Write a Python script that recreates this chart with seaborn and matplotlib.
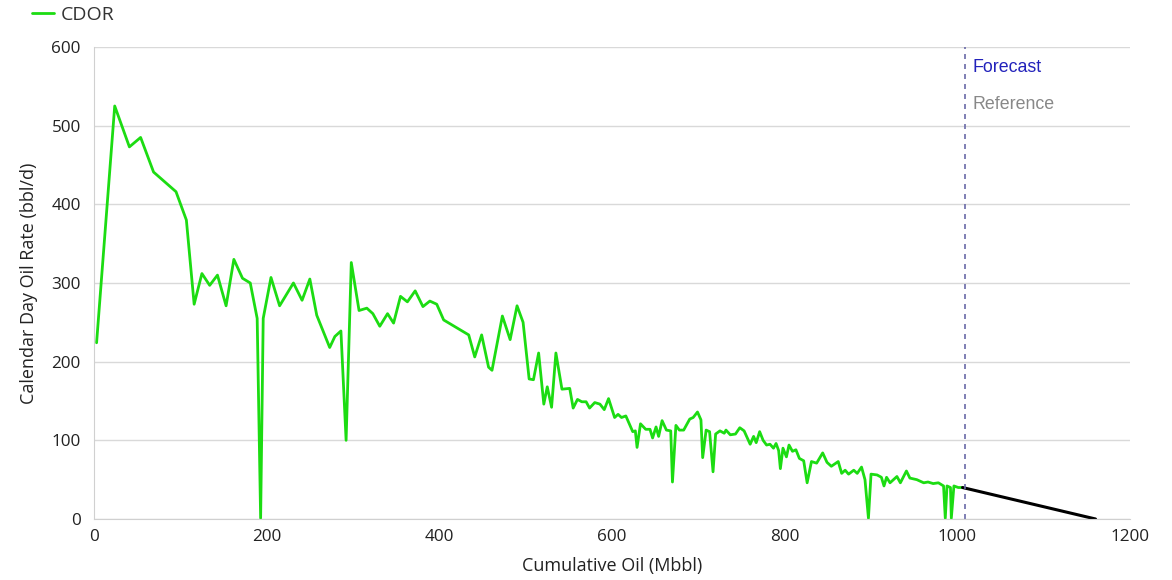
import numpy as np
import pandas as pd
import matplotlib
matplotlib.use("Agg")
import matplotlib.pyplot as plt
import seaborn as sns

# cumulative oil (Mbbl) and calendar day oil rate (bbl/d)
cum_oil = [3, 24, 41, 54, 69, 95, 107, 116, 125, 134, 143, 153, 162, 172, 181,
           189, 193, 196, 205, 215, 231, 241, 250, 258, 273, 279, 286, 292, 298,
           307, 316, 323, 331, 340, 347, 355, 363, 372, 381, 389, 397, 405, 434,
           441, 449, 457, 461, 473, 482, 490, 497, 504, 509, 515, 521, 525, 530,
           535, 542, 551, 555, 560, 565, 570, 574, 580, 586, 591, 596, 603, 607,
           611, 616, 624, 627, 629, 633, 639, 644, 647, 651, 654, 658, 663, 668,
           670, 674, 678, 683, 690, 694, 699, 703, 705, 709, 713, 717, 720, 725,
           730, 732, 737, 743, 748, 753, 760, 764, 767, 771, 775, 779, 783, 787,
           790, 793, 795, 798, 802, 805, 809, 813, 817, 822, 826, 831, 837, 844,
           849, 854, 862, 866, 870, 874, 880, 884, 889, 893, 897, 900, 907, 912,
           915, 918, 922, 926, 930, 934, 941, 945, 953, 961, 966, 972, 978, 984,
           986, 988, 992, 993, 996, 1001, 1006]
oil_rate = [224, 525, 473, 485, 441, 416, 380, 273, 312, 297, 310, 271, 330, 306, 300,
            255, 1, 255, 307, 271, 300, 278, 305, 259, 218, 232, 239, 100, 326,
            265, 268, 261, 245, 261, 249, 283, 276, 290, 270, 277, 273, 253, 234,
            206, 234, 193, 189, 258, 228, 271, 250, 178, 177, 211, 146, 168, 142,
            211, 165, 166, 141, 152, 149, 149, 141, 148, 146, 139, 153, 129, 133,
            129, 131, 111, 112, 91, 121, 114, 114, 103, 117, 105, 125, 113, 112,
            47, 119, 113, 113, 127, 129, 136, 126, 78, 113, 111, 60, 108, 112,
            109, 113, 107, 108, 116, 112, 95, 105, 97, 111, 100, 94, 95, 90,
            96, 87, 64, 90, 79, 94, 86, 88, 77, 74, 46, 73, 71, 84,
            72, 67, 73, 58, 62, 57, 62, 58, 66, 50, 1, 57, 56, 53,
            42, 53, 46, 50, 54, 46, 61, 52, 50, 46, 47, 45, 46, 42,
            1, 42, 40, 1, 42, 40, 40]

fc_cum = [1006, 1160]
fc_rate = [40, 0]
forecast_start = 1009

hist = pd.DataFrame({"cum": cum_oil, "rate": oil_rate})
fc = pd.DataFrame({"cum": fc_cum, "rate": fc_rate})

sns.set_style("white")
plt.rcParams["font.family"] = ["Open Sans", "DejaVu Sans"]

fig = plt.figure(figsize=(11.72, 5.8), dpi=100)
ax = fig.add_axes([0.0802, 0.1052, 0.884, 0.8138])

green = "#1cdc12"
sns.lineplot(data=hist, x="cum", y="rate", ax=ax, color=green, linewidth=2.0,
             label="CDOR", sort=False)
sns.lineplot(data=fc, x="cum", y="rate", ax=ax, color="black", linewidth=2.2,
             sort=False, legend=False)
ax.axvline(forecast_start, color="#6a6aa8", linestyle=(0, (3, 3)), linewidth=1.2)

ax.set_xlim(0, 1200)
ax.set_ylim(0, 600)
ax.set_xticks(np.arange(0, 1201, 200))
ax.set_yticks(np.arange(0, 601, 100))
ax.yaxis.grid(True, color="#d9d9d9", linewidth=1)
ax.xaxis.grid(False)
for s in ["top", "right"]:
    ax.spines[s].set_visible(False)
ax.spines["left"].set_color("#d0d0d0")
ax.spines["bottom"].set_color("#d0d0d0")
ax.tick_params(axis="x", length=5.5, width=1, color="#d0d0d0", labelsize=12.3,
               labelcolor="#222222", pad=2)
ax.tick_params(axis="y", length=7.5, width=1, color="#d9d9d9", labelsize=12.3,
               labelcolor="#222222", pad=2)
ax.set_xlabel("Cumulative Oil (Mbbl)", fontsize=13, color="#222222", labelpad=8)
ax.set_ylabel("Calendar Day Oil Rate (bbl/d)", fontsize=13, color="#222222", labelpad=10)

ax.text(1018, 574, "Forecast", color="#2222bb", fontsize=12.8,
        family=["Liberation Sans", "DejaVu Sans"], va="center")
ax.text(1018, 527, "Reference", color="#888888", fontsize=12.8,
        family=["Liberation Sans", "DejaVu Sans"], va="center")

leg = ax.legend(loc="center left", bbox_to_anchor=(-0.06, 1.068), frameon=False,
                fontsize=14, handlelength=1.15, handletextpad=0.35, borderaxespad=0,
                borderpad=0)
for t in leg.get_texts():
    t.set_color("#333333")

fig.savefig("out.png", dpi=100)
